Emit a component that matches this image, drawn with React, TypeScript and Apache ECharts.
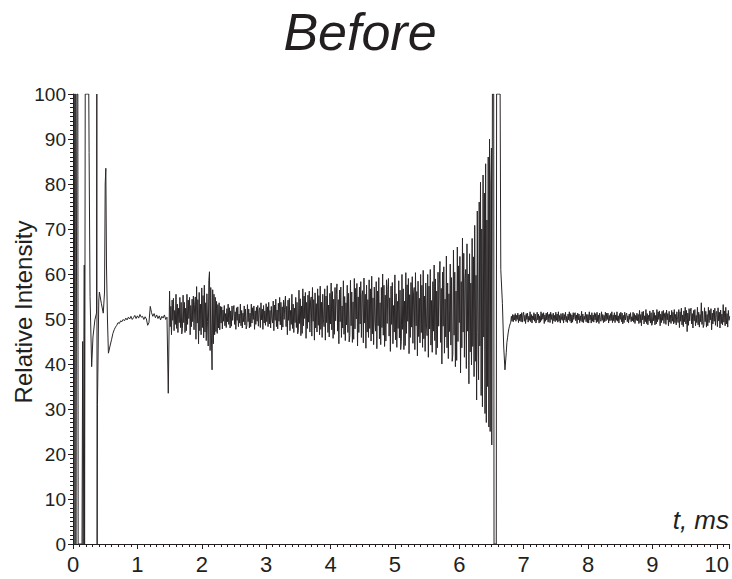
import React, { useEffect, useRef } from "react";
import * as echarts from "echarts";

// x-axis ticks (ms) and y-axis ticks (relative intensity)
const xTicks = [0, 1, 2, 3, 4, 5, 6, 7, 8, 9, 10];
const yTicks = [0, 10, 20, 30, 40, 50, 60, 70, 80, 90, 100];

// start-up transient: irregular sample times
const headT = [0.0, 0.02, 0.025, 0.04, 0.045, 0.055, 0.06, 0.075, 0.08, 0.14, 0.15, 0.158, 0.168, 0.175, 0.18, 0.19, 0.2, 0.245, 0.25, 0.265, 0.29, 0.31, 0.34, 0.365, 0.37, 0.375, 0.38, 0.4, 0.41, 0.44, 0.47, 0.49, 0.5, 0.51, 0.52, 0.535, 0.55, 0.575];
const headV = [0, 0, 100, 100, 0, 0, 100, 100, 0, 0, 45, 0, 0, 62, 0, 100, 100, 100, 87, 55, 39.4, 46, 49.8, 51.3, 100, 0, 31, 54, 56, 53.5, 51.3, 56, 80, 83.5, 62, 50, 42.4, 44];

// quiet stretch, 0.60 ms to 1.48 ms every 0.02 ms
const quietStart = 0.6;
const quietStep = 0.02;
const quietV = [
  45.5, 46.8, 47.6, 48.2, 48.6, 49.2, 49.0, 49.6, 49.4, 49.9,
  49.6, 50.2, 49.8, 50.4, 50.0, 50.6, 49.9, 50.3, 50.8, 50.1,
  50.7, 50.2, 51.0, 50.4, 50.6, 49.9, 50.5, 50.0, 48.6, 49.2,
  52.8, 51.4, 50.6, 51.2, 50.3, 50.9, 50.1, 50.7, 49.8, 50.6,
  50.2, 50.9, 49.9, 50.4, 33.5,
];

// oscillating stretch, 1.50 ms to 6.49 ms every 0.01 ms
const noisyStart = 1.5;
const noisyStep = 0.01;
const noisyV = [
  56.2, 48.3, 52.8, 46.5, 54.2, 49.7, 54.6, 47.4, 51.9, 48.8, 55.5, 47.9, 53.3, 47.0, 52.4, 49.2, 54.8, 48.1, 53.7, 46.7,
  47.9, 55.3, 49.2, 53.7, 47.0, 52.4, 47.4, 55.5, 48.8, 54.2, 50.1, 54.8, 46.5, 53.0, 48.3, 54.4, 49.4, 55.1, 47.6, 53.3,
  54.9, 45.5, 57.2, 49.1, 54.3, 44.5, 55.9, 47.4, 53.3, 46.5, 56.9, 48.1, 55.2, 45.8, 57.5, 47.1, 53.6, 45.2, 55.6, 49.4,
  44.0, 58.5, 60.5, 43.0, 57.0, 46.0, 38.7, 56.5, 44.5, 55.5, 46.5, 54.8, 47.2, 53.9, 46.8, 53.2, 48.0, 53.6, 47.6, 52.8,
  49.1, 52.7, 47.8, 52.0, 49.5, 53.0, 48.5, 51.2, 48.1, 52.3, 49.4, 53.3, 48.8, 52.5, 48.0, 51.8, 48.4, 52.9, 49.7, 52.2,
  53.0, 48.8, 51.6, 47.7, 52.5, 49.7, 52.7, 48.3, 51.1, 49.1, 53.3, 48.5, 51.9, 48.0, 51.3, 49.4, 52.9, 48.7, 52.2, 47.8,
  48.5, 53.2, 49.4, 52.2, 48.0, 51.3, 48.3, 53.3, 49.1, 52.5, 49.9, 52.9, 47.7, 51.8, 48.8, 52.6, 49.5, 53.0, 48.4, 51.9,
  52.5, 48.1, 53.6, 49.8, 52.2, 47.7, 53.0, 49.1, 51.8, 48.6, 53.4, 49.4, 52.7, 48.3, 53.7, 48.9, 51.9, 48.0, 52.8, 50.0,
  49.1, 54.0, 47.4, 53.1, 49.7, 54.4, 48.3, 52.0, 47.8, 53.5, 49.5, 54.8, 48.7, 53.7, 47.6, 52.7, 48.2, 54.2, 49.9, 53.3,
  55.1, 48.3, 52.8, 46.5, 54.2, 49.7, 54.6, 47.4, 51.9, 48.8, 55.5, 47.9, 53.3, 47.0, 52.4, 49.2, 54.8, 48.1, 53.7, 46.7,
  47.4, 56.4, 49.0, 54.5, 46.3, 52.9, 46.8, 56.7, 48.5, 55.1, 50.1, 55.9, 45.7, 53.7, 47.9, 55.3, 49.3, 56.2, 47.1, 54.0,
  54.9, 46.2, 57.0, 49.5, 54.3, 45.3, 55.8, 48.0, 53.4, 47.1, 56.7, 48.6, 55.2, 46.5, 57.3, 47.7, 53.7, 45.9, 55.5, 49.8,
  48.3, 56.7, 45.3, 55.1, 49.2, 57.4, 47.0, 53.1, 46.0, 55.7, 48.9, 58.0, 47.6, 56.1, 45.7, 54.4, 46.6, 57.0, 49.6, 55.4,
  57.8, 47.3, 54.3, 44.5, 56.4, 49.4, 57.1, 45.9, 52.9, 48.0, 58.5, 46.6, 55.0, 45.2, 53.6, 48.7, 57.5, 47.0, 55.7, 44.9,
  46.3, 58.6, 48.5, 56.0, 44.8, 53.8, 45.5, 59.0, 47.8, 56.8, 50.0, 57.9, 44.0, 54.9, 47.0, 57.1, 48.9, 58.3, 45.9, 55.3,
  56.3, 44.7, 59.1, 49.1, 55.5, 43.5, 57.5, 47.1, 54.3, 45.9, 58.7, 47.9, 56.7, 45.1, 59.5, 46.7, 54.7, 44.3, 57.1, 49.5,
  47.3, 58.3, 43.4, 56.2, 48.5, 59.2, 45.6, 53.6, 44.3, 57.0, 48.1, 60.0, 46.4, 57.5, 43.9, 55.3, 45.1, 58.7, 49.0, 56.6,
  59.0, 46.2, 54.7, 42.8, 57.3, 48.8, 58.1, 44.5, 53.0, 47.1, 59.8, 45.4, 55.6, 43.7, 53.9, 47.9, 58.5, 45.8, 56.4, 43.2,
  45.0, 59.9, 47.7, 56.7, 43.2, 54.0, 44.1, 60.3, 46.8, 57.6, 49.5, 59.0, 42.3, 55.4, 45.9, 58.1, 48.2, 59.4, 44.6, 55.8,
  57.0, 43.2, 60.3, 48.5, 56.1, 41.8, 58.4, 46.1, 54.6, 44.7, 59.9, 47.0, 57.5, 43.7, 60.8, 45.6, 55.1, 42.8, 58.0, 48.9,
  46.3, 59.9, 41.5, 57.3, 47.8, 61.0, 44.2, 54.1, 42.6, 58.3, 47.3, 62.0, 45.2, 58.9, 42.1, 56.2, 43.6, 60.4, 48.4, 57.8,
  62.8, 44.8, 56.8, 40.0, 60.4, 48.4, 61.6, 42.4, 54.4, 46.0, 64.0, 43.6, 58.0, 41.2, 55.6, 47.2, 62.2, 44.2, 59.2, 40.6,
  42.2, 65.3, 46.4, 60.4, 39.4, 56.2, 40.8, 66.0, 45.0, 61.8, 49.2, 63.9, 38.0, 58.3, 43.6, 68.0, 47.1, 64.6, 41.5, 59.0,
  61.0, 39.0, 66.7, 47.3, 60.0, 35.6, 64.5, 42.7, 58.0, 39.8, 67.9, 43.9, 63.8, 37.2, 70.8, 40.6, 59.7, 32.0, 74.0, 47.0,
  36.5, 76.0, 44.0, 80.4, 33.0, 70.0, 30.5, 82.0, 46.0, 78.0, 29.0, 84.5, 27.0, 72.0, 35.0, 86.0, 26.0, 90.0, 25.0, 80.0,
];

// overload spike: irregular sample times
const spikeT = [6.5, 6.505, 6.515, 6.535, 6.54, 6.575, 6.58, 6.635, 6.645, 6.67, 6.69, 6.71, 6.73];
const spikeV = [88, 22, 100, 100, 0, 0, 100, 100, 61, 53.5, 44, 38.7, 42.5];

// recovered record, 6.74 ms to 10.20 ms every 0.01 ms
const tailStart = 6.74;
const tailStep = 0.01;
const tailV = [
  44.8, 45.8, 46.9, 47.8, 48.4, 48.9,
  49.3, 50.6, 49.5, 51.0, 49.4, 50.9, 49.8, 51.2, 49.5, 50.8, 49.9, 51.3, 49.2, 50.9, 49.6, 51.1, 49.4, 51.4, 49.3, 50.9,
  51.5, 49.5, 50.8, 49.0, 51.2, 49.9, 51.3, 49.3, 50.6, 49.7, 51.6, 49.4, 51.0, 49.1, 50.7, 49.8, 51.4, 49.5, 51.1, 49.1,
  49.4, 51.5, 49.8, 51.1, 49.1, 50.7, 49.3, 51.6, 49.7, 51.2, 50.0, 51.4, 49.0, 50.9, 49.5, 51.3, 49.8, 51.5, 49.3, 51.0,
  51.1, 49.2, 51.5, 49.9, 51.0, 49.0, 51.3, 49.6, 50.8, 49.4, 51.5, 49.7, 51.1, 49.3, 51.6, 49.5, 50.8, 49.1, 51.2, 50.0,
  49.7, 51.3, 49.1, 51.0, 49.8, 51.5, 49.4, 50.6, 49.2, 51.1, 49.8, 51.6, 49.5, 51.2, 49.1, 50.9, 49.3, 51.4, 49.9, 51.1,
  51.4, 49.6, 50.9, 49.0, 51.3, 49.8, 51.1, 49.2, 50.7, 49.6, 51.7, 49.3, 51.1, 49.2, 50.6, 49.9, 51.5, 49.4, 51.0, 49.2,
  51.0, 49.1, 51.6, 49.8, 50.9, 49.1, 51.4, 49.5, 50.9, 49.3, 51.4, 49.8, 51.2, 49.2, 51.5, 49.4, 50.9, 49.0, 51.3, 49.9,
  49.5, 51.6, 49.7, 51.0, 49.2, 50.8, 49.4, 51.5, 49.6, 51.3, 49.9, 51.3, 49.1, 50.8, 49.6, 51.2, 49.7, 51.6, 49.2, 50.9,
  49.6, 51.4, 49.2, 50.9, 49.7, 51.6, 49.5, 50.7, 49.1, 51.2, 49.9, 51.5, 49.4, 51.3, 48.9, 50.8, 49.2, 51.5, 49.8, 51.0,
  51.3, 49.4, 50.7, 49.1, 51.1, 49.9, 51.4, 49.4, 50.5, 49.6, 51.5, 49.3, 51.2, 49.0, 50.8, 49.7, 51.3, 49.6, 51.0, 49.0,
  51.9, 49.2, 51.0, 48.5, 51.6, 49.8, 51.7, 48.9, 50.7, 49.4, 52.1, 49.0, 51.2, 48.7, 50.8, 49.6, 51.8, 49.1, 51.4, 48.6,
  49.0, 52.0, 49.6, 51.4, 48.7, 50.8, 48.9, 52.1, 49.4, 51.6, 49.9, 51.8, 48.5, 51.1, 49.2, 51.7, 49.7, 51.9, 49.0, 51.2,
  51.4, 48.8, 52.0, 49.8, 51.2, 48.5, 51.7, 49.3, 50.9, 49.0, 51.9, 49.5, 51.5, 48.9, 52.1, 49.2, 51.0, 48.7, 51.6, 49.9,
  49.2, 52.1, 48.1, 51.6, 49.5, 52.4, 48.7, 50.9, 48.3, 51.8, 49.4, 52.6, 48.9, 51.9, 47.2, 51.3, 48.6, 52.3, 49.6, 51.7,
  52.4, 48.9, 51.2, 48.0, 51.9, 49.6, 52.1, 48.5, 50.8, 49.2, 52.6, 48.7, 51.5, 48.2, 51.0, 49.4, 53.6, 48.8, 51.7, 48.1,
  48.7, 52.5, 49.4, 51.7, 48.2, 51.0, 48.5, 52.6, 49.2, 51.9, 49.8, 52.3, 47.6, 51.3, 48.9, 52.0, 49.5, 52.4, 48.6, 51.5,
  51.7, 48.3, 52.5, 49.6, 51.5, 48.0, 52.0, 49.0, 51.1, 48.7, 53.2, 49.3, 51.8, 48.5, 52.6, 48.9, 51.2, 48.2, 51.9, 49.7,
  50.6,
];

const FONT = "'Liberation Sans', Arial, Helvetica, sans-serif";
const INK = "#231f20";

function buildData(): [number, number][] {
  const d: [number, number][] = [];
  headT.forEach((t, i) => d.push([t, headV[i]]));
  quietV.forEach((v, i) => d.push([+(quietStart + i * quietStep).toFixed(3), v]));
  noisyV.forEach((v, i) => d.push([+(noisyStart + i * noisyStep).toFixed(3), v]));
  spikeT.forEach((t, i) => d.push([t, spikeV[i]]));
  tailV.forEach((v, i) => d.push([+(tailStart + i * tailStep).toFixed(3), v]));
  return d;
}

export default function App() {
  const ref = useRef<HTMLDivElement>(null);
  useEffect(() => {
    if (!ref.current) return;
    const chart = echarts.init(ref.current, undefined, { renderer: "svg" });
    chart.setOption({
      animation: false,
      backgroundColor: "#ffffff",
      grid: { left: 73, right: 0, top: 94, bottom: 35, containLabel: false },
      xAxis: {
        type: "value",
        min: 0,
        max: 10.2,
        interval: 1,
        axisLine: { show: true, onZero: false, lineStyle: { color: INK, width: 1 } },
        axisTick: { show: true, inside: false, length: 5, lineStyle: { color: INK } },
        minorTick: { show: true, splitNumber: 10, length: 3, lineStyle: { color: INK } },
        splitLine: { show: false },
        minorSplitLine: { show: false },
        axisLabel: {
          show: true,
          margin: 9,
          color: INK,
          fontFamily: FONT,
          fontSize: 22,
          showMaxLabel: false,
          formatter: (v: number) => (xTicks.indexOf(v) >= 0 ? String(v) : ""),
        },
      },
      yAxis: {
        type: "value",
        min: 0,
        max: 100,
        interval: 10,
        axisLine: { show: true, lineStyle: { color: INK, width: 1 } },
        axisTick: { show: true, inside: false, length: 5, lineStyle: { color: INK } },
        minorTick: { show: true, splitNumber: 10, length: 3, lineStyle: { color: INK } },
        splitLine: { show: false },
        minorSplitLine: { show: false },
        axisLabel: {
          show: true,
          margin: 7,
          color: INK,
          fontFamily: FONT,
          fontSize: 19,
          formatter: (v: number) => (yTicks.indexOf(v) >= 0 ? String(v) : ""),
        },
      },
      graphic: [
        {
          type: "text",
          x: 360,
          y: 32,
          style: {
            text: "Before",
            fontFamily: FONT,
            fontSize: 52,
            fontStyle: "italic",
            fill: INK,
            textAlign: "center",
            textVerticalAlign: "middle",
          },
        },
        {
          type: "text",
          x: 23,
          y: 312,
          rotation: Math.PI / 2,
          style: {
            text: "Relative Intensity",
            fontFamily: FONT,
            fontSize: 24,
            fill: INK,
            textAlign: "center",
            textVerticalAlign: "middle",
          },
        },
        {
          type: "text",
          x: 729,
          y: 520,
          style: {
            text: "t, ms",
            fontFamily: FONT,
            fontSize: 26,
            fontStyle: "italic",
            fill: INK,
            textAlign: "right",
            textVerticalAlign: "middle",
          },
        },
      ],
      series: [
        {
          type: "line",
          data: buildData(),
          showSymbol: false,
          symbol: "none",
          clip: true,
          lineStyle: { color: "#2a2627", width: 1 },
        },
      ],
    });
    return () => chart.dispose();
  }, []);
  return (
    <div
      ref={ref}
      style={{ position: "fixed", left: 0, top: 0, width: 732, height: 579, background: "#fff" }}
    />
  );
}
